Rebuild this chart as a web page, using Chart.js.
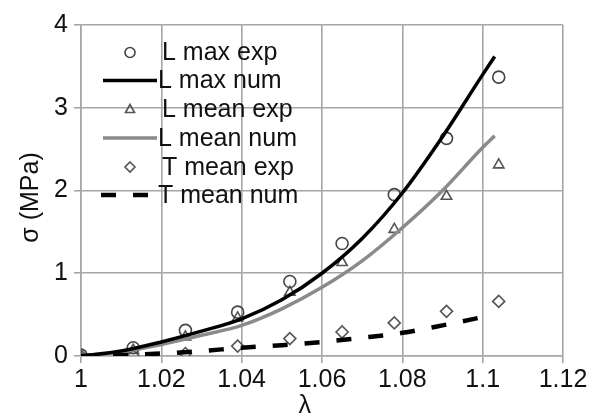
<!DOCTYPE html>
<html>
<head>
<meta charset="utf-8">
<script src="https://cdn.jsdelivr.net/npm/chart.js@4/dist/chart.umd.min.js"></script>
<style>
  html, body { margin: 0; padding: 0; background: #fff; }
  #wrap { width: 601px; height: 419px; }
</style>
</head>
<body>
<div id="wrap"><canvas id="stressChart" width="601" height="419"></canvas></div>
<script>
// experimental points (lambda) and measured stresses
var lambdaExp = [1, 1.013, 1.026, 1.039, 1.052, 1.065, 1.078, 1.091, 1.104];
var lMaxExp = [0.01, 0.1, 0.31, 0.53, 0.9, 1.36, 1.95, 2.63, 3.37];
var lMeanExp = [-0.02, 0.07, 0.23, 0.46, 0.77, 1.13, 1.53, 1.93, 2.31];
var tMeanExp = [0, 0, 0.03, 0.12, 0.21, 0.29, 0.40, 0.54, 0.66];

// numerical curves
var lambdaNum = [1, 1.01, 1.02, 1.03, 1.04, 1.05, 1.06, 1.07, 1.08, 1.09, 1.10, 1.103];
var lMaxNum = [0, 0.06, 0.17, 0.30, 0.45, 0.68, 1.0, 1.42, 1.97, 2.65, 3.40, 3.62];
var lMeanNum = [0, 0.05, 0.14, 0.25, 0.37, 0.57, 0.83, 1.15, 1.55, 2.0, 2.52, 2.66];
var lambdaT = [1, 1.01, 1.02, 1.03, 1.04, 1.05, 1.06, 1.07, 1.08, 1.09, 1.10];
var tMeanNum = [0, 0.01, 0.03, 0.06, 0.10, 0.13, 0.17, 0.22, 0.28, 0.37, 0.47];

var xTicks = [1, 1.02, 1.04, 1.06, 1.08, 1.1, 1.12];
var yTicks = [0, 1, 2, 3, 4];

function pts(xs, ys) {
    return xs.map(function (x, i) { return { x: x, y: ys[i] }; });
}

var FONT = '"Liberation Sans", Arial, sans-serif';
var GRID = '#a6a6a6';

// legend drawn inside the plot, top-left
var insideLegend = {
    id: 'insideLegend',
    afterDraw: function (chart) {
        var ctx = chart.ctx;
        var rows = [52.5, 80.5, 109.5, 138, 167, 195];
        ctx.save();
        chart.data.datasets.forEach(function (ds, r) {
            var y = rows[r];
            if (ds.showLine) {
                ctx.beginPath();
                ctx.strokeStyle = ds.borderColor;
                ctx.lineWidth = ds.borderWidth;
                ctx.setLineDash(ds.borderDash || []);
                ctx.moveTo(ds.borderDash ? 101 : 103, y);
                ctx.lineTo(157, y);
                ctx.stroke();
                ctx.setLineDash([]);
            } else {
                ctx.strokeStyle = ds.pointBorderColor;
                ctx.lineWidth = ds.pointBorderWidth;
                ctx.beginPath();
                var cx = 130, s = ds.pointRadius - 1;
                if (ds.pointStyle === 'circle') {
                    ctx.arc(cx, y, s, 0, Math.PI * 2);
                } else if (ds.pointStyle === 'triangle') {
                    ctx.moveTo(cx, y - s);
                    ctx.lineTo(cx + s * 0.9, y + s * 0.6);
                    ctx.lineTo(cx - s * 0.9, y + s * 0.6);
                    ctx.closePath();
                } else {
                    ctx.moveTo(cx, y - s);
                    ctx.lineTo(cx + s, y);
                    ctx.lineTo(cx, y + s);
                    ctx.lineTo(cx - s, y);
                    ctx.closePath();
                }
                ctx.stroke();
            }
            ctx.fillStyle = '#111';
            ctx.font = '25px ' + FONT;
            ctx.textBaseline = 'middle';
            ctx.fillText(ds.label, ds.showLine ? 158 : 162, y + 1);
        });
        ctx.restore();
    }
};

var ctx = document.getElementById('stressChart').getContext('2d');
var stressChart = new Chart(ctx, {
    type: 'scatter',
    data: {
        datasets: [{
            label: 'L max exp',
            data: pts(lambdaExp, lMaxExp),
            pointStyle: 'circle',
            pointRadius: 6,
            pointBorderWidth: 1.6,
            pointBorderColor: '#444',
            pointBackgroundColor: 'rgba(0,0,0,0)',
            showLine: false,
            order: 5
        }, {
            label: 'L max num',
            data: pts(lambdaNum, lMaxNum),
            showLine: true,
            borderColor: '#000',
            borderWidth: 3.5,
            pointRadius: 0,
            cubicInterpolationMode: 'monotone',
            order: 1
        }, {
            label: 'L mean exp',
            data: pts(lambdaExp, lMeanExp),
            pointStyle: 'triangle',
            pointRadius: 6,
            pointBorderWidth: 1.6,
            pointBorderColor: '#555',
            pointBackgroundColor: 'rgba(0,0,0,0)',
            showLine: false,
            order: 5
        }, {
            label: 'L mean num',
            data: pts(lambdaNum, lMeanNum),
            showLine: true,
            borderColor: '#8a8a8a',
            borderWidth: 3.5,
            pointRadius: 0,
            cubicInterpolationMode: 'monotone',
            order: 2
        }, {
            label: 'T mean exp',
            data: pts(lambdaExp, tMeanExp),
            pointStyle: 'rectRot',
            pointRadius: 6,
            pointBorderWidth: 1.6,
            pointBorderColor: '#555',
            pointBackgroundColor: 'rgba(0,0,0,0)',
            showLine: false,
            order: 5
        }, {
            label: 'T mean num',
            data: pts(lambdaT, tMeanNum),
            showLine: true,
            borderColor: '#000',
            borderWidth: 4.5,
            borderDash: [15, 17],
            pointRadius: 0,
            cubicInterpolationMode: 'monotone',
            order: 0
        }]
    },
    options: {
        responsive: false,
        animation: false,
        layout: { padding: { top: 25, right: 38, left: 0, bottom: 0 } },
        plugins: {
            legend: { display: false },
            tooltip: { enabled: false }
        },
        scales: {
            x: {
                type: 'linear',
                min: 1,
                max: 1.12,
                afterBuildTicks: function (scale) {
                    scale.ticks = xTicks.map(function (v) { return { value: v }; });
                },
                afterFit: function (scale) { scale.height = 63; },
                grid: { color: GRID, lineWidth: 1.6, tickLength: 7, tickColor: GRID },
                border: { color: GRID, width: 1.6 },
                ticks: {
                    color: '#111',
                    padding: 2,
                    maxRotation: 0,
                    font: { family: FONT, size: 25 },
                    callback: function (v) { return String(+v.toFixed(2)); }
                },
                title: {
                    display: true,
                    text: 'λ     ',
                    color: '#111',
                    font: { family: FONT, size: 25 },
                    padding: { top: 0, bottom: -2 }
                }
            },
            y: {
                type: 'linear',
                min: 0,
                max: 4,
                afterBuildTicks: function (scale) {
                    scale.ticks = yTicks.map(function (v) { return { value: v }; });
                },
                afterFit: function (scale) { scale.width = 81; },
                grid: { color: GRID, lineWidth: 1.6, tickLength: 7, tickColor: GRID },
                border: { color: GRID, width: 1.6 },
                ticks: {
                    color: '#111',
                    padding: 6,
                    font: { family: FONT, size: 25 }
                },
                title: {
                    display: true,
                    text: 'σ (MPa)  ',
                    color: '#111',
                    font: { family: FONT, size: 25 },
                    padding: { top: 16, bottom: 0 }
                }
            }
        }
    },
    plugins: [insideLegend]
});
</script>
</body>
</html>
